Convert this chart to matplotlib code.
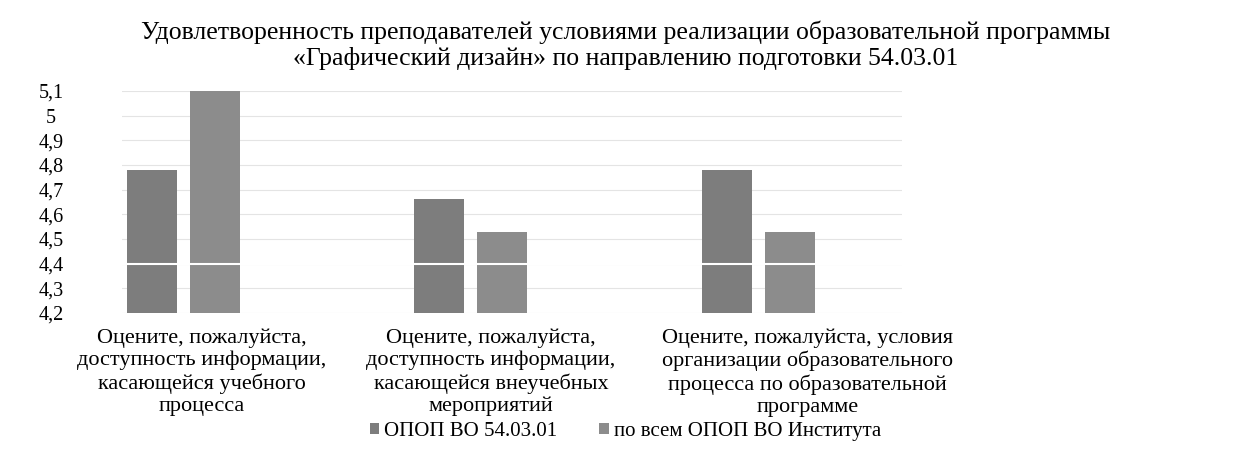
import numpy as np
import matplotlib
matplotlib.use('Agg')
import matplotlib.pyplot as plt

# данные диаграммы
categories = [
    'Оцените, пожалуйста,\nдоступность информации,\nкасающейся учебного\nпроцесса',
    'Оцените, пожалуйста,\nдоступность информации,\nкасающейся внеучебных\nмероприятий',
    'Оцените, пожалуйста, условия\nорганизации образовательного\nпроцесса по образовательной\nпрограмме',
]
series_names = ['ОПОП ВО 54.03.01', 'по всем ОПОП ВО Института']
opop_values = [4.78, 4.66, 4.78]
institute_values = [5.1, 4.53, 4.53]
y_ticks = [4.2, 4.3, 4.4, 4.5, 4.6, 4.7, 4.8, 4.9, 5.0, 5.1]
y_tick_labels = ['4,2', '4,3', '4,4', '4,5', '4,6', '4,7', '4,8', '4,9', '5', '5,1']

title = ('Удовлетворенность преподавателей условиями реализации образовательной программы\n'
         '«Графический дизайн» по направлению подготовки 54.03.01')

serif = ['Liberation Serif', 'DejaVu Serif']

fig = plt.figure(figsize=(12.51, 4.59), dpi=100)
ax = fig.add_axes([0.0975, 0.318, 0.6235, 0.484])

x = np.arange(len(categories))
w = 0.174
off = 0.11
ax.bar(x - off, opop_values, w, color='#7d7d7d', label=series_names[0], zorder=2)
ax.bar(x + off, institute_values, w, color='#8c8c8c', label=series_names[1], zorder=2)

# белая линия на уровне 4,4 как на скане
ax.axhline(4.4, color='white', lw=1.5, zorder=3)

ax.set_ylim(4.2, 5.1)
ax.set_xlim(-0.214, 2.5)
ax.set_yticks(y_ticks)
ax.set_yticklabels(y_tick_labels, family=serif, fontsize=14.5, ha='center')
ax.tick_params(axis='y', length=0, pad=51)

# подписи категорий на скане сдвинуты вправо от групп столбцов
label_shift = [0.064, 0.07, 0.172]
ax.set_xticks(x + np.array(label_shift))
ax.set_xticklabels(categories, family=serif, fontsize=16)
for lab in ax.get_xticklabels():
    lab.set_linespacing(1.2)
ax.tick_params(axis='x', length=0, pad=11)

ax.yaxis.grid(True, color='#e4e4e4', lw=0.8, zorder=0)
ax.set_axisbelow(True)
for s in ax.spines.values():
    s.set_visible(False)

fig.text(0.5, 0.902, title, ha='center', va='center', family=serif, fontsize=18.5, linespacing=1.15)

fig.legend(loc='center', bbox_to_anchor=(0.5, 0.06), ncol=2, frameon=False,
           prop={'family': serif, 'size': 15}, handlelength=0.45, handleheight=0.45,
           handletextpad=0.25, columnspacing=2.0)

fig.savefig('out.png', dpi=100)
